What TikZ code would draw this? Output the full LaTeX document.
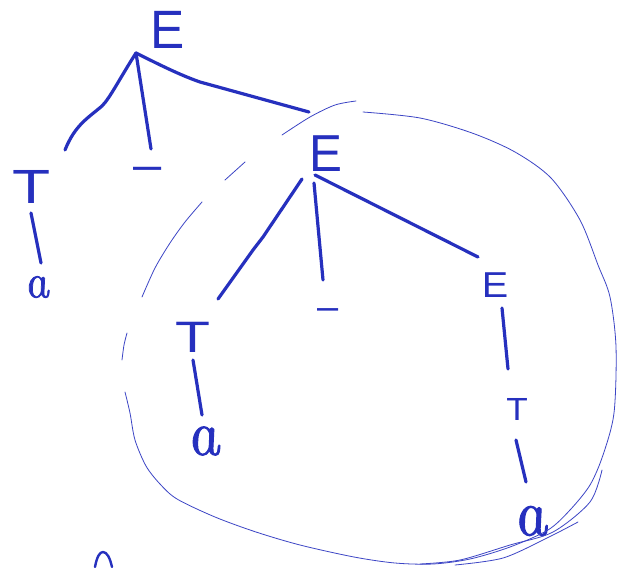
\documentclass[tikz,border=0pt]{standalone}
\usepackage{fontspec}
\setmainfont{Liberation Sans}
\newfontfamily\handa[ItalicFeatures={FakeSlant=-0.2,FakeBold=1.5}]{Latin Modern Roman}
\definecolor{ink}{RGB}{38,48,190}
\newcommand{\fsz}[1]{\fontsize{#1}{#1}\selectfont}
\newcommand{\wide}[2]{\scalebox{#1}[1]{#2}}
\newcommand{\hand}[1]{{\handa\itshape\fsz{#1}a}}
\tikzset{
  sym/.style={text=ink, inner sep=0pt, anchor=center},
  edge/.style={draw=ink, line width=3.2pt, line cap=round, line join=round},
  ring/.style={draw=ink!90, line width=0.8pt, line cap=round, line join=round},
}
\begin{document}
\begin{tikzpicture}[x=1pt,y=-1pt]
\useasboundingbox (0,0) rectangle (617,567);
\fill[white] (0,0) rectangle (617,567);

% symbols
\node[sym, font=\fsz{54}] (E1) at (168,30) {\wide{0.95}{E}};
\node[sym, font=\fsz{48}] (T1) at (32,187) {\wide{1.3}{T}};
\node[sym, font=\fsz{46}] (m1) at (148,174) {\wide{1.1}{–}};
\node[sym] (a1) at (38,287) {\hand{48}};
\node[sym, font=\fsz{52}] (E2) at (326,154) {\wide{0.95}{E}};
\node[sym, font=\fsz{44}] (T2) at (193,337) {\wide{1.3}{T}};
\node[sym, font=\fsz{38}] (m2) at (328,314) {–};
\node[sym, font=\fsz{36}] (E3) at (495,285) {\wide{1.1}{E}};
\node[sym] (a2) at (205,441) {\hand{64}};
\node[sym, font=\fsz{32}] (T3) at (517,409) {\wide{1.1}{T}};
\node[sym] (a3) at (532,521) {\hand{66}};

% branch points and line ends
\coordinate (r1) at (136,53);
\coordinate (r1a) at (65,150);
\coordinate (r1b) at (151,149);
\coordinate (r1c) at (309,112);
\coordinate (t1s) at (31,213);
\coordinate (t1e) at (41,263);
\coordinate (r2a) at (302,179);
\coordinate (r2ae) at (218,299);
\coordinate (r2b) at (314,183);
\coordinate (r2be) at (323,280);
\coordinate (r2c) at (315,175);
\coordinate (r2ce) at (478,257);
\coordinate (t2s) at (193,360);
\coordinate (t2e) at (202,415);
\coordinate (e3s) at (502,308);
\coordinate (e3e) at (508,369);
\coordinate (t3s) at (516,440);
\coordinate (t3e) at (526,482);

% tree edges
\draw[edge] (r1) .. controls (120,78) and (110,98) .. (102,106) .. controls (88,118) and (75,125) .. (r1a);
\draw[edge] (r1) -- (r1b);
\draw[edge] (r1) .. controls (160,65) and (180,75) .. (200,82) -- (r1c);
\draw[edge] (t1s) -- (t1e);
\draw[edge] (r2a) -- (263,237) -- (253,250) -- (r2ae);
\draw[edge] (r2b) -- (r2be);
\draw[edge] (r2c) -- (r2ce);
\draw[edge] (t2s) -- (t2e);
\draw[edge] (e3s) -- (e3e);
\draw[edge] (t3s) -- (t3e);

% fragment at bottom left
\draw[edge, line width=2.4pt] (95,567) .. controls (97,556) and (100,552) .. (103,552) .. controls (107,552) and (110,558) .. (112,567);

% hand-drawn ring
\draw[ring] plot[smooth] coordinates {(282,135) (310,117) (335,105) (356,101)};
\draw[ring] plot[smooth] coordinates {(363,112) (420,118) (472,133) (515,152) (551,178) (580,220) (598,265) (610,297) (616,347) (614,413) (603,455) (590,485) (570,510) (548,530) (510,547) (470,559) (433,564) (395,563) (354,557) (300,545) (256,532) (215,517) (177,499) (160,484) (146,466) (135,440) (130,413) (125,392)};
\draw[ring] plot[smooth] coordinates {(420,564) (460,560) (510,545) (553,532) (590,502) (602,470)};
\draw[ring] plot[smooth] coordinates {(455,565) (503,558) (547,538) (578,522)};
\draw[ring] plot[smooth] coordinates {(122,360) (124,345) (127,333)};
\draw[ring] plot[smooth] coordinates {(142,297) (155,268) (170,243) (185,222) (202,202)};
\draw[ring] plot[smooth] coordinates {(225,180) (235,171) (245,162)};
\end{tikzpicture}
\end{document}
